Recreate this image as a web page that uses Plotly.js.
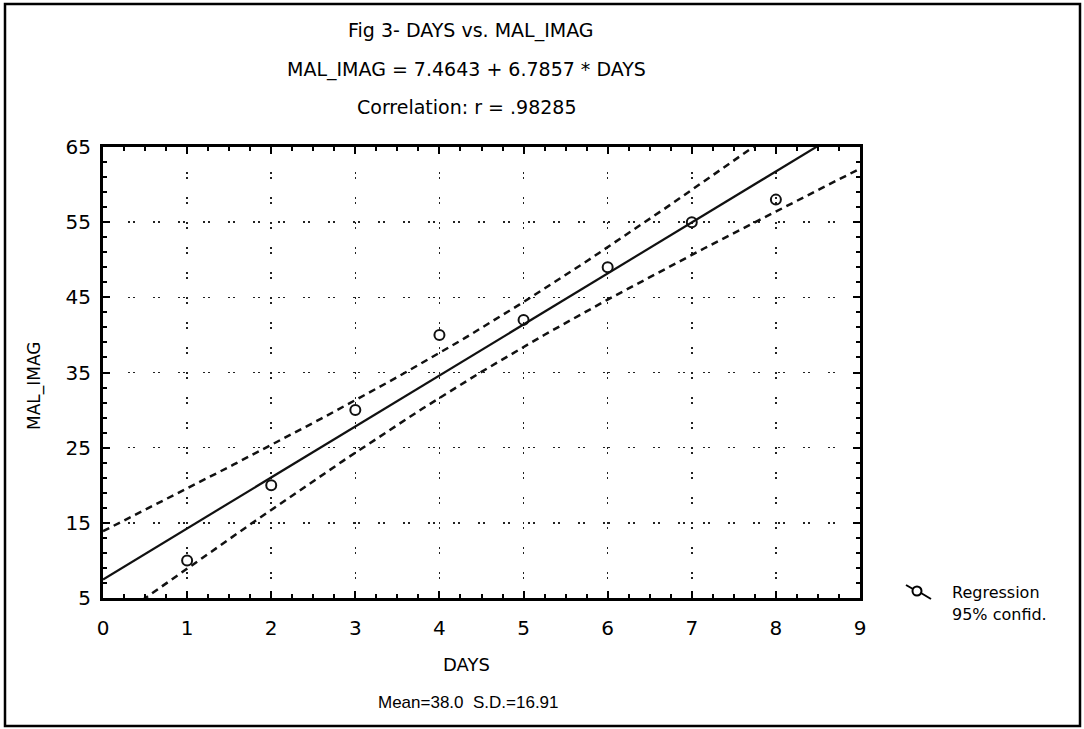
<!DOCTYPE html>
<html>
<head>
<meta charset="utf-8">
<script src="https://cdn.plot.ly/plotly-3.0.1.min.js"></script>
<style>html,body{margin:0;padding:0;background:#fff;}#chart{width:1084px;height:729px;}</style>
</head>
<body>
<div id="chart"></div>
<script>
// ---- data ----
var days = [1, 2, 3, 4, 5, 6, 7, 8];
var malImag = [10, 20, 30, 40, 42, 49, 55, 58];
var xTickVals = [0, 1, 2, 3, 4, 5, 6, 7, 8, 9];
var yTickVals = [5, 15, 25, 35, 45, 55, 65];
var titleLines = ["Fig 3- DAYS vs. MAL_IMAG", "MAL_IMAG = 7.4643 + 6.7857 * DAYS", "Correlation: r = .98285"];
var footText = "Mean=38.0  S.D.=16.91";
var legendLabels = ["Regression", "95% confid."];
var tCrit = 2.4469; // Student t, 0.975, df = 6

// ---- least-squares fit and 95% confidence band of the mean (derived from the data) ----
var n = days.length;
var mx = days.reduce(function(a,b){return a+b;},0)/n;
var my = malImag.reduce(function(a,b){return a+b;},0)/n;
var sxx = 0, sxy = 0, syy = 0;
for (var i=0;i<n;i++){ sxx += (days[i]-mx)*(days[i]-mx); sxy += (days[i]-mx)*(malImag[i]-my); syy += (malImag[i]-my)*(malImag[i]-my); }
var slope = sxy/sxx, intercept = my - slope*mx;
var se = Math.sqrt((syy - sxy*sxy/sxx)/(n-2));
var xs = [], fit = [], upper = [], lower = [];
for (var k=0;k<=180;k++){
  var x = k*0.05;
  var f = intercept + slope*x;
  var hw = tCrit*se*Math.sqrt(1/n + (x-mx)*(x-mx)/sxx);
  xs.push(x); fit.push(f); upper.push(f+hw); lower.push(f-hw);
}

// paper-coordinate helpers (plot area: x 103..860, y 147..598)
function px(p){ return (p-103)/757; }
function py(p){ return (598-p)/451; }

var FONT = "DejaVu Sans, Verdana, sans-serif";
var FONT2 = "Liberation Sans, Arial, sans-serif";

var traces = [
  {x: xs, y: upper, mode: "lines", line: {color: "#111", width: 2.5, dash: "7px,5px"}, showlegend: false, hoverinfo: "skip"},
  {x: xs, y: lower, mode: "lines", line: {color: "#111", width: 2.5, dash: "7px,5px"}, showlegend: false, hoverinfo: "skip"},
  {x: xs, y: fit, mode: "lines", line: {color: "#111", width: 2.2}, showlegend: false, hoverinfo: "skip"},
  {x: days, y: malImag, mode: "markers", marker: {symbol: "circle-open", size: 10, color: "#111", line: {width: 2, color: "#111"}}, showlegend: false, cliponaxis: false}
];

var gridDash = "2px,3px,2px,18px";
var axisCommon = {
  showline: true, linecolor: "#000", linewidth: 3, mirror: "ticks",
  ticks: "inside", ticklen: 7, tickwidth: 2, tickcolor: "#000",
  showgrid: true, gridcolor: "#222", gridwidth: 1.5, griddash: gridDash,
  zeroline: false, tickfont: {family: FONT, size: 20, color: "#000"}
};

var xaxis = Object.assign({}, axisCommon, {
  range: [0, 9], tickmode: "array", tickvals: xTickVals, ticktext: xTickVals.map(String),
  ticklabelstandoff: 10,
  minor: {dtick: 0.25, tick0: 0, ticks: "inside", ticklen: 4, tickwidth: 2, tickcolor: "#000", showgrid: false}
});
var yaxis = Object.assign({}, axisCommon, {
  range: [5, 65], tickmode: "array", tickvals: yTickVals, ticktext: yTickVals.map(String),
  ticklabelstandoff: 5,
  minor: {dtick: 2, tick0: 5, ticks: "inside", ticklen: 4, tickwidth: 2, tickcolor: "#000", showgrid: false}
});

var ann = [];
var titleY = [31, 69, 107];
var titleX = [471, 466, 467];
for (var j=0;j<titleLines.length;j++){
  ann.push({xref:"paper", yref:"paper", x: px(titleX[j]), y: py(titleY[j]), text: titleLines[j], showarrow:false, xanchor:"center", yanchor:"middle", font:{family:FONT, size:19, color:"#000"}});
}
ann.push({xref:"paper", yref:"paper", x: px(466), y: py(664), text: "DAYS", showarrow:false, xanchor:"center", yanchor:"middle", font:{family:FONT, size:18, color:"#000"}});
ann.push({xref:"paper", yref:"paper", x: px(468), y: py(702), text: footText, showarrow:false, xanchor:"center", yanchor:"middle", font:{family:FONT2, size:17, color:"#000"}});
ann.push({xref:"paper", yref:"paper", x: px(34), y: py(386), text: "MAL_IMAG", textangle: -90, showarrow:false, xanchor:"center", yanchor:"middle", font:{family:FONT, size:17, color:"#000"}});
ann.push({xref:"paper", yref:"paper", x: px(950), y: py(592), text: legendLabels[0], showarrow:false, xanchor:"left", yanchor:"middle", font:{family:FONT, size:16, color:"#000"}});
ann.push({xref:"paper", yref:"paper", x: px(950), y: py(614), text: legendLabels[1], showarrow:false, xanchor:"left", yanchor:"middle", font:{family:FONT, size:16, color:"#000"}});

var shapes = [
  // outer frame
  {type:"rect", xref:"paper", yref:"paper", x0: px(5), x1: px(1080), y0: py(726), y1: py(4), line:{color:"#000", width:2.5}, fillcolor:"rgba(0,0,0,0)", layer:"below"},
  // legend symbol
  {type:"line", xref:"paper", yref:"paper", x0: px(906), y0: py(585), x1: px(913), y1: py(589), line:{color:"#000", width:2}},
  {type:"line", xref:"paper", yref:"paper", x0: px(921), y0: py(593), x1: px(931), y1: py(599), line:{color:"#000", width:2}},
  {type:"circle", xref:"paper", yref:"paper", x0: px(912.5), x1: px(921.5), y0: py(595.5), y1: py(586.5), line:{color:"#000", width:2}}
];

var layout = {
  width: 1084, height: 729,
  margin: {l: 103, r: 224, t: 147, b: 131, pad: 0},
  paper_bgcolor: "#fff", plot_bgcolor: "#fff",
  showlegend: false,
  xaxis: xaxis, yaxis: yaxis,
  annotations: ann, shapes: shapes,
  font: {family: FONT, color: "#000"}
};

Plotly.newPlot("chart", traces, layout, {displayModeBar: false, staticPlot: true});
</script>
</body>
</html>
